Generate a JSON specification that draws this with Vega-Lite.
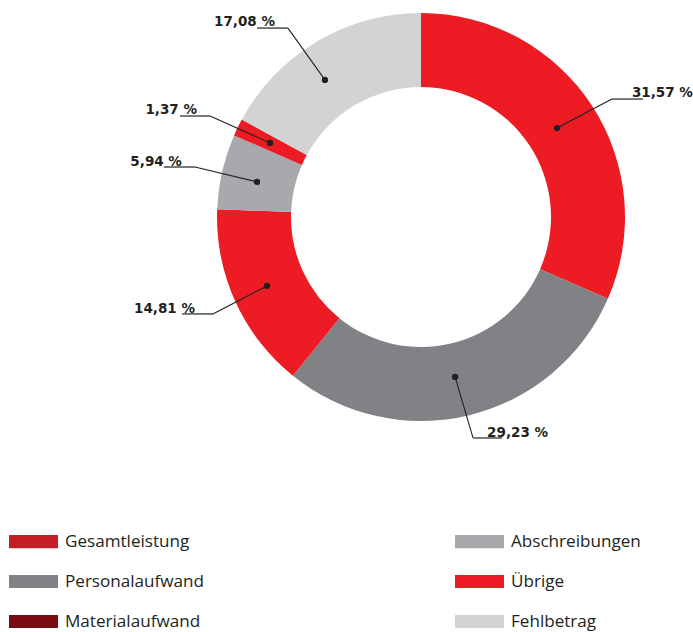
{
  "$schema": "https://vega.github.io/schema/vega-lite/v6.json",
  "autosize": "none",
  "width": 544,
  "height": 434,
  "padding": {"left": 149, "top": 0, "right": 0, "bottom": 198},
  "background": "white",
  "config": {"view": {"stroke": null}},
  "datasets": {
    "anteile": [
      {"Kategorie": "Gesamtleistung", "Anteil": 31.57, "Nr": 1},
      {"Kategorie": "Personalaufwand", "Anteil": 29.23, "Nr": 2},
      {"Kategorie": "Materialaufwand", "Anteil": 14.81, "Nr": 3},
      {"Kategorie": "Abschreibungen", "Anteil": 5.94, "Nr": 4},
      {"Kategorie": "Übrige", "Anteil": 1.37, "Nr": 5},
      {"Kategorie": "Fehlbetrag", "Anteil": 17.08, "Nr": 6}
    ],
    "beschriftungen": [
      {"label": "31,57 %", "px": 0.667, "py": 0.436, "ex": 0.936, "ey": 0.578, "ux": 1.088, "tx": 1.034, "ty": 0.588},
      {"label": "29,23 %", "px": 0.167, "py": -0.784, "ex": 0.255, "ey": -1.083, "ux": 0.397, "tx": 0.324, "ty": -1.078},
      {"label": "14,81 %", "px": -0.755, "py": -0.338, "ex": -1.02, "ey": -0.475, "ux": -1.172, "tx": -1.108, "ty": -0.471},
      {"label": "5,94 %", "px": -0.804, "py": 0.172, "ex": -1.108, "ey": 0.245, "ux": -1.26, "tx": -1.172, "ty": 0.25},
      {"label": "1,37 %", "px": -0.74, "py": 0.363, "ex": -1.034, "ey": 0.495, "ux": -1.181, "tx": -1.098, "ty": 0.505},
      {"label": "17,08 %", "px": -0.471, "py": 0.672, "ex": -0.652, "ey": 0.926, "ux": -0.804, "tx": -0.716, "ty": 0.936}
    ]
  },
  "layer": [
    {
      "data": {"name": "anteile"},
      "mark": {"type": "arc", "innerRadius": 130, "outerRadius": 204, "strokeWidth": 0},
      "encoding": {
        "theta": {"field": "Anteil", "type": "quantitative", "stack": true},
        "order": {"field": "Nr", "type": "quantitative"},
        "color": {
          "field": "Kategorie", "type": "nominal", "legend": null,
          "scale": {
            "domain": ["Gesamtleistung", "Personalaufwand", "Materialaufwand", "Abschreibungen", "Übrige", "Fehlbetrag"],
            "range": ["#ed1c24", "#808285", "#ed1c24", "#a7a9ac", "#ed1c24", "#d1d3d4"]
          }
        }
      }
    },
    {
      "data": {"name": "anteile"},
      "mark": {"type": "square", "opacity": 0, "size": 1},
      "encoding": {
        "color": {
          "field": "Kategorie", "type": "nominal",
          "scale": {
            "domain": ["Gesamtleistung", "Personalaufwand", "Materialaufwand", "Abschreibungen", "Übrige", "Fehlbetrag"],
            "range": ["#c41e26", "#808285", "#7a0c11", "#a7a9ac", "#ed1c24", "#d1d3d4"]
          },
          "legend": {
            "title": null,
            "orient": "none",
            "legendX": -140,
            "legendY": 517,
            "columns": 2,
            "columnPadding": 250,
            "rowPadding": 7,
            "padding": 0,
            "symbolType": "M-1,-0.27H1V0.27H-1Z",
            "symbolSize": 2401,
            "symbolStrokeWidth": 0,
            "symbolOpacity": 1,
            "labelFont": "Open Sans",
            "labelFontSize": 17.1,
            "labelColor": "#231f20",
            "labelOffset": 7,
            "labelLimit": 300
          }
        }
      }
    },
    {
      "data": {"name": "beschriftungen"},
      "mark": {"type": "rule", "color": "#231f20", "strokeWidth": 1.1},
      "encoding": {
        "x": {"field": "px", "type": "quantitative", "axis": null, "scale": {"domain": [-1.3333, 1.3333], "nice": false, "zero": false}},
        "y": {"field": "py", "type": "quantitative", "axis": null, "scale": {"domain": [-1.0637, 1.0637], "nice": false, "zero": false}},
        "x2": {"field": "ex"},
        "y2": {"field": "ey"}
      }
    },
    {
      "data": {"name": "beschriftungen"},
      "mark": {"type": "rule", "color": "#58595b", "strokeWidth": 1.6},
      "encoding": {
        "x": {"field": "ex", "type": "quantitative"},
        "x2": {"field": "ux"},
        "y": {"field": "ey", "type": "quantitative"}
      }
    },
    {
      "data": {"name": "beschriftungen"},
      "mark": {"type": "point", "filled": true, "shape": "circle", "size": 40, "color": "#231f20", "opacity": 1},
      "encoding": {
        "x": {"field": "px", "type": "quantitative"},
        "y": {"field": "py", "type": "quantitative"}
      }
    },
    {
      "data": {"name": "beschriftungen"},
      "transform": [{"filter": "datum.tx < 0"}],
      "mark": {"type": "text", "align": "right", "baseline": "alphabetic", "font": "DejaVu Sans", "fontWeight": "bold", "fontSize": 13.5, "color": "#231f20"},
      "encoding": {
        "x": {"field": "tx", "type": "quantitative"},
        "y": {"field": "ty", "type": "quantitative"},
        "text": {"field": "label"}
      }
    },
    {
      "data": {"name": "beschriftungen"},
      "transform": [{"filter": "datum.tx >= 0"}],
      "mark": {"type": "text", "align": "left", "baseline": "alphabetic", "font": "DejaVu Sans", "fontWeight": "bold", "fontSize": 13.5, "color": "#231f20"},
      "encoding": {
        "x": {"field": "tx", "type": "quantitative"},
        "y": {"field": "ty", "type": "quantitative"},
        "text": {"field": "label"}
      }
    }
  ],
  "resolve": {"scale": {"color": "independent"}}
}
